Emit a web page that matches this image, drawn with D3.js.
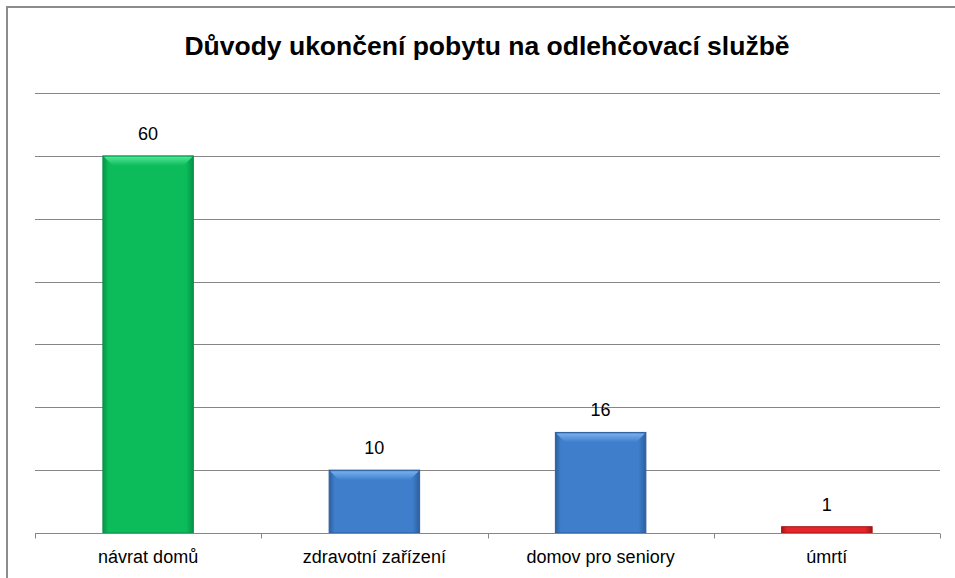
<!DOCTYPE html>
<html>
<head>
<meta charset="utf-8">
<script src="https://cdn.jsdelivr.net/npm/d3@7"></script>
<style>
  body { margin: 0; background: #fff; }
  svg { display: block; font-family: "Liberation Sans", Arial, sans-serif; }
</style>
</head>
<body>
<svg id="chart"></svg>
<script>
var title = "Důvody ukončení pobytu na odlehčovací službě";
var categories = ["návrat domů", "zdravotní zařízení", "domov pro seniory", "úmrtí"];
var values = [60, 10, 16, 1];
var colors = ["green", "blue", "blue", "red"];
var yTicks = [0, 10, 20, 30, 40, 50, 60, 70];

var width = 955, height = 578;
var svg = d3.select("#chart").attr("width", width).attr("height", height);

// palettes for the bevelled bars: [edge, body, top highlight]
var palette = {
  green: ["#07934a", "#0cbb5a", "#4fe596"],
  blue:  ["#2d5f9e", "#3e7ecb", "#78b0ee"],
  red:   ["#a51414", "#e4262a", "#ff6b6b"]
};

var defs = svg.append("defs");
Object.keys(palette).forEach(function(k) {
  var p = palette[k];
  var g = defs.append("linearGradient").attr("id", "grad-" + k)
      .attr("x1", 0).attr("x2", 1).attr("y1", 0).attr("y2", 0);
  g.append("stop").attr("offset", "0%").attr("stop-color", p[0]);
  g.append("stop").attr("offset", "6%").attr("stop-color", p[1]);
  g.append("stop").attr("offset", "92%").attr("stop-color", p[1]);
  g.append("stop").attr("offset", "100%").attr("stop-color", p[0]);
  var t = defs.append("linearGradient").attr("id", "top-" + k)
      .attr("x1", 0).attr("x2", 0).attr("y1", 0).attr("y2", 1);
  t.append("stop").attr("offset", "0%").attr("stop-color", p[2]);
  t.append("stop").attr("offset", "100%").attr("stop-color", p[1]);
});

// chart border (box runs off the right and bottom edges)
svg.append("rect")
  .attr("x", 7).attr("y", 7).attr("width", width + 20).attr("height", height + 20)
  .attr("fill", "none").attr("stroke", "#8c8c8c").attr("stroke-width", 2);

svg.append("text")
  .attr("x", 487).attr("y", 55)
  .attr("text-anchor", "middle")
  .attr("font-size", 26.5).attr("font-weight", "bold").attr("fill", "#000")
  .text(title);

var plotLeft = 35, plotRight = 940, plotTop = 93, plotBottom = 533;

var x = d3.scaleBand().domain(categories).range([plotLeft, plotRight])
    .paddingInner(0.6).paddingOuter(0.3);
var y = d3.scaleLinear().domain([0, 70]).range([plotBottom, plotTop]);

// gridlines
svg.append("g").selectAll("line")
  .data(yTicks.slice(1))
  .enter().append("line")
  .attr("x1", plotLeft).attr("x2", plotRight)
  .attr("y1", function(d) { return Math.round(y(d)) + 0.5; })
  .attr("y2", function(d) { return Math.round(y(d)) + 0.5; })
  .attr("stroke", "#868686").attr("stroke-width", 1);

var data = categories.map(function(c, i) { return { cat: c, value: values[i], color: colors[i] }; });

var bar = svg.append("g").selectAll("g")
  .data(data)
  .enter().append("g");

bar.append("rect")
  .attr("x", function(d) { return x(d.cat); })
  .attr("y", function(d) { return y(d.value); })
  .attr("width", x.bandwidth())
  .attr("height", function(d) { return y(0) - y(d.value); })
  .attr("fill", function(d) { return "url(#grad-" + d.color + ")"; })
  .attr("stroke", function(d) { return palette[d.color][0]; })
  .attr("stroke-width", 1);

// top bevel
bar.filter(function(d) { return y(0) - y(d.value) > 20; })
  .append("path")
  .attr("d", function(d) {
    var x0 = x(d.cat) + 1, x1 = x(d.cat) + x.bandwidth() - 1, y0 = y(d.value) + 1, b = 9;
    return "M" + x0 + "," + y0 + "L" + x1 + "," + y0 + "L" + (x1 - b) + "," + (y0 + b) +
      "L" + (x0 + b) + "," + (y0 + b) + "Z";
  })
  .attr("fill", function(d) { return "url(#top-" + d.color + ")"; });

// value labels
bar.append("text")
  .attr("x", function(d) { return x(d.cat) + x.bandwidth() / 2; })
  .attr("y", function(d) { return y(d.value) - 16; })
  .attr("text-anchor", "middle")
  .attr("font-size", 18).attr("fill", "#000")
  .text(function(d) { return d.value; });

// x axis
var xAxis = svg.append("g")
  .attr("transform", "translate(0," + (plotBottom + 0.5) + ")");
xAxis.append("line")
  .attr("x1", plotLeft).attr("x2", plotRight)
  .attr("stroke", "#868686");
var edges = categories.map(function(c) { return x(c) - x.step() * x.paddingInner() / 2; });
edges.push(plotRight);
edges[0] = plotLeft;
xAxis.selectAll(".tick")
  .data(edges)
  .enter().append("line")
  .attr("x1", function(d) { return Math.round(d) + 0.5; })
  .attr("x2", function(d) { return Math.round(d) + 0.5; })
  .attr("y1", 0).attr("y2", 5)
  .attr("stroke", "#868686");
xAxis.selectAll("text")
  .data(categories)
  .enter().append("text")
  .attr("x", function(d) { return x(d) + x.bandwidth() / 2; })
  .attr("y", 29)
  .attr("text-anchor", "middle")
  .attr("font-size", 18).attr("fill", "#000")
  .text(function(d) { return d; });
</script>
</body>
</html>
